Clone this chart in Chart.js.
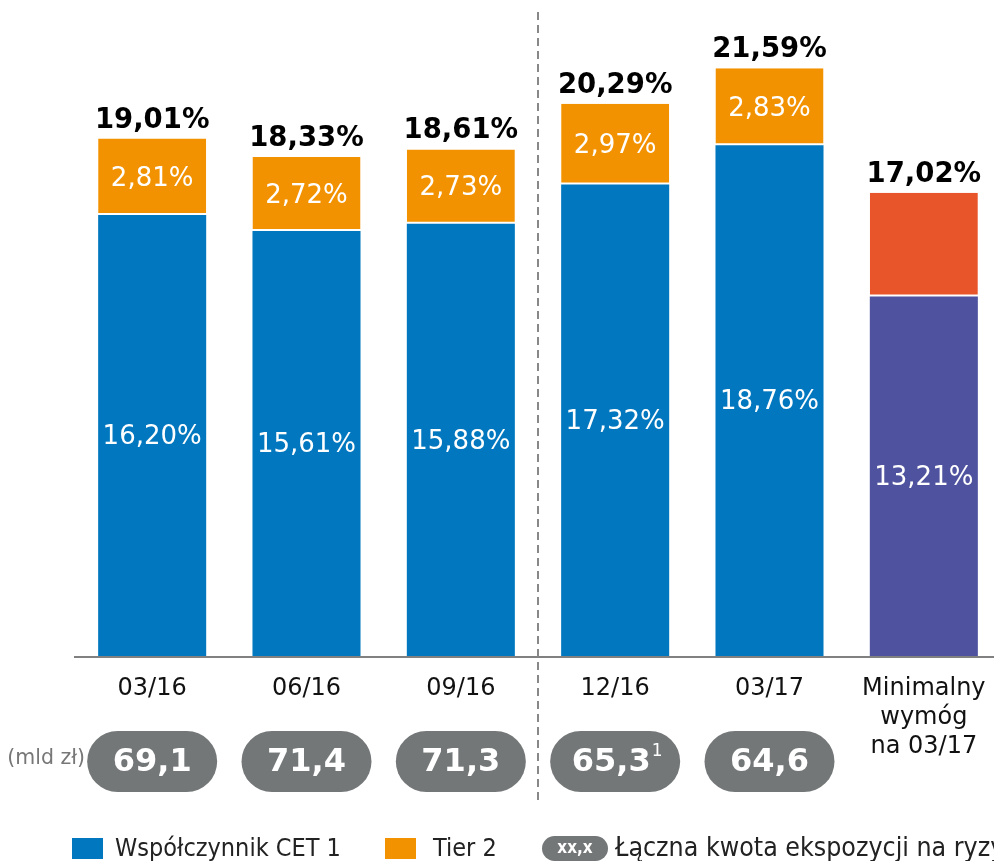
<!DOCTYPE html>
<html>
<head>
<meta charset="utf-8">
<script src="https://cdn.jsdelivr.net/npm/chart.js@4"></script>
<style>
  html, body { margin: 0; padding: 0; background: #fff; overflow: hidden; }
  #wrap { width: 1010px; height: 861px; }
</style>
</head>
<body>
<div id="wrap"><canvas id="chart" width="1010" height="861"></canvas></div>
<script>
var categories = ['03/16', '06/16', '09/16', '12/16', '03/17', ['Minimalny', 'wymóg', 'na 03/17']];
var cet1 = [16.20, 15.61, 15.88, 17.32, 18.76, 13.21];
var tier2 = [2.81, 2.72, 2.73, 2.97, 2.83, 3.81];
var totals = [19.01, 18.33, 18.61, 20.29, 21.59, 17.02];
var exposure = ['69,1', '71,4', '71,3', '65,3', '64,6'];
var exposureNote = ['', '', '', '1', ''];

var BLUE = '#0077be';
var ORANGE = '#f39200';
var PURPLE = '#4f529e';
var RED = '#e8552b';
var PILL = '#747778';
var FONT = '"DejaVu Sans", Verdana, sans-serif';
var NARROW = '"DejaVu Sans Condensed", "Liberation Sans Narrow", sans-serif';

function pct(v) {
    return v.toFixed(2).replace('.', ',') + '%';
}

function pill(ctx, x, y, w, h) {
    var r = h / 2;
    ctx.beginPath();
    ctx.moveTo(x + r, y);
    ctx.lineTo(x + w - r, y);
    ctx.arc(x + w - r, y + r, r, -Math.PI / 2, Math.PI / 2);
    ctx.lineTo(x + r, y + h);
    ctx.arc(x + r, y + r, r, Math.PI / 2, Math.PI * 1.5);
    ctx.closePath();
    ctx.fill();
}

var extras = {
    id: 'extras',
    afterDatasetsDraw: function (chart) {
        var ctx = chart.ctx;
        var x = chart.scales.x;
        var y = chart.scales.y;
        var base = y.getPixelForValue(0);
        ctx.save();

        // baseline
        ctx.strokeStyle = '#808080';
        ctx.lineWidth = 2;
        ctx.beginPath();
        ctx.moveTo(74, base + 1);
        ctx.lineTo(1010, base + 1);
        ctx.stroke();

        // dashed separator between 09/16 and 12/16
        var sep = (x.getPixelForValue(2) + x.getPixelForValue(3)) / 2;
        ctx.setLineDash([8, 5]);
        ctx.strokeStyle = '#888888';
        ctx.beginPath();
        ctx.moveTo(sep, 12);
        ctx.lineTo(sep, 800);
        ctx.stroke();
        ctx.setLineDash([]);

        ctx.textAlign = 'center';
        for (var i = 0; i < categories.length; i++) {
            var cx = x.getPixelForValue(i);
            // segment labels
            ctx.fillStyle = '#fff';
            ctx.font = '26px ' + FONT;
            ctx.textBaseline = 'middle';
            ctx.fillText(pct(cet1[i]), cx, (y.getPixelForValue(0) + y.getPixelForValue(cet1[i])) / 2 + 2);
            if (i < 5) {
                ctx.fillText(pct(tier2[i]), cx, (y.getPixelForValue(cet1[i]) + y.getPixelForValue(totals[i])) / 2 + 2);
            }
            // totals
            ctx.fillStyle = '#000';
            ctx.font = 'bold 27.5px ' + FONT;
            ctx.textBaseline = 'alphabetic';
            ctx.fillText(pct(totals[i]), cx, y.getPixelForValue(totals[i]) - 11);
            // category labels
            ctx.font = '24px ' + FONT;
            ctx.fillStyle = '#111';
            ctx.textBaseline = 'middle';
            var lines = [].concat(categories[i]);
            for (var j = 0; j < lines.length; j++) {
                ctx.fillText(lines[j], cx, 689 + j * 29);
            }
            // exposure pills
            if (i < exposure.length) {
                ctx.fillStyle = PILL;
                pill(ctx, cx - 65, 731, 130, 61);
                ctx.fillStyle = '#fff';
                ctx.font = 'bold 32px ' + FONT;
                ctx.textBaseline = 'middle';
                if (exposureNote[i]) {
                    var tw = ctx.measureText(exposure[i]).width;
                    ctx.textAlign = 'left';
                    ctx.fillText(exposure[i], cx - tw / 2 - 4, 763);
                    ctx.font = '17px ' + FONT;
                    ctx.fillText(exposureNote[i], cx + tw / 2 - 3, 752);
                    ctx.textAlign = 'center';
                } else {
                    ctx.fillText(exposure[i], cx, 763);
                }
            }
        }

        ctx.fillStyle = '#777';
        ctx.font = '20.5px ' + FONT;
        ctx.textAlign = 'right';
        ctx.textBaseline = 'middle';
        ctx.fillText('(mld zł)', 85, 759);

        // legend
        ctx.textAlign = 'left';
        ctx.font = '25px ' + NARROW;
        ctx.fillStyle = BLUE;
        ctx.fillRect(72, 838, 31, 21);
        ctx.fillStyle = ORANGE;
        ctx.fillRect(385, 838, 31, 21);
        ctx.fillStyle = '#222';
        ctx.fillText('Współczynnik CET 1', 115, 849);
        ctx.fillText('Tier 2', 433, 849);
        ctx.fillStyle = PILL;
        pill(ctx, 542, 836, 66, 25);
        ctx.fillStyle = '#fff';
        ctx.font = 'bold 17px ' + NARROW;
        ctx.textAlign = 'center';
        ctx.fillText('xx,x', 575, 849);
        ctx.textAlign = 'left';
        ctx.fillStyle = '#222';
        ctx.font = '26.5px ' + NARROW;
        ctx.fillText('Łączna kwota ekspozycji na ryzyko', 615, 849);

        ctx.restore();
    }
};

new Chart(document.getElementById('chart'), {
    type: 'bar',
    data: {
        labels: categories,
        datasets: [
            {
                label: 'Współczynnik CET 1',
                data: cet1,
                backgroundColor: [BLUE, BLUE, BLUE, BLUE, BLUE, PURPLE],
                borderWidth: 0
            },
            {
                label: 'Tier 2',
                data: tier2,
                backgroundColor: [ORANGE, ORANGE, ORANGE, ORANGE, ORANGE, RED],
                borderColor: '#ffffff',
                borderWidth: { top: 0, left: 0, right: 0, bottom: 2 },
                borderSkipped: false
            }
        ]
    },
    options: {
        responsive: false,
        animation: false,
        events: [],
        layout: { padding: { left: 75, right: 9, top: 0, bottom: 205 } },
        datasets: { bar: { categoryPercentage: 1, barPercentage: 0.70 } },
        plugins: { legend: { display: false }, tooltip: { enabled: false } },
        scales: {
            x: { stacked: true, display: false },
            y: { stacked: true, display: false, min: 0, max: 24.1 }
        }
    },
    plugins: [extras]
});
</script>
</body>
</html>
